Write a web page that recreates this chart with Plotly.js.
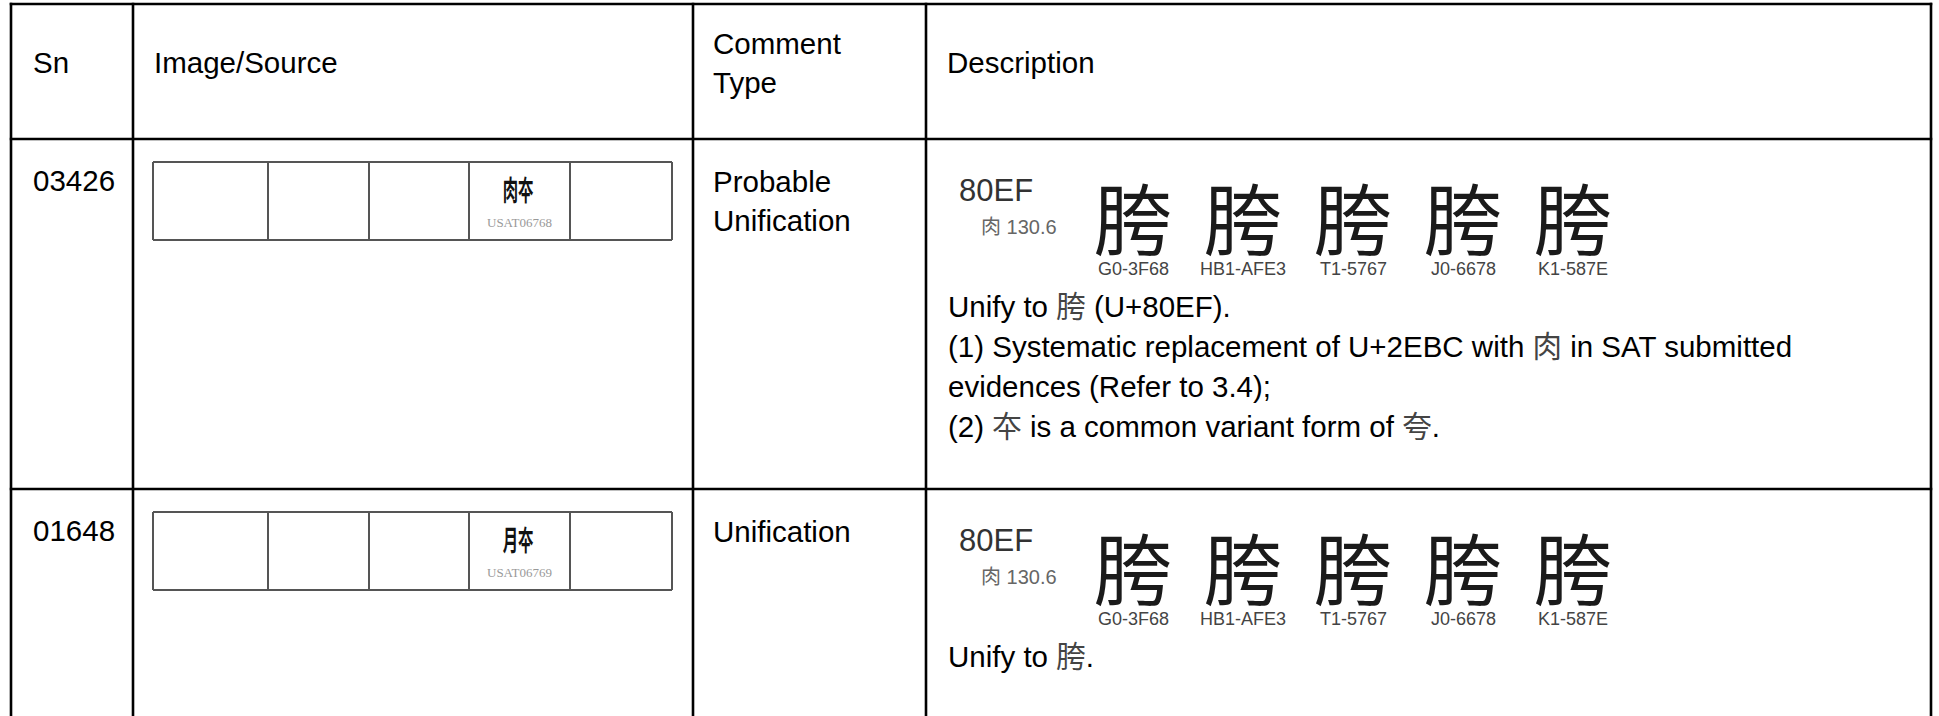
<!DOCTYPE html>
<html>
<head>
<meta charset="utf-8">
<script src="https://cdn.plot.ly/plotly-3.0.1.min.js"></script>
<style>
html,body{margin:0;padding:0;background:#ffffff;overflow:hidden}
#chart{width:1939px;height:716px}
</style>
</head>
<body>
<div id="chart"></div>
<script>
// ---------------- data ----------------
const headerSn = "Sn";
const headerImage = "Image/Source";
const headerComment = ["Comment", "Type"];
const headerDescription = "Description";

const serialNumbers = ["03426", "01648"];
const commentTypes = [["Probable", "Unification"], ["Unification"]];

const sourceSlotCount = 5;
const sourceSlotUsed = 3;               // 0-based slot holding the SAT glyph
const sourceGlyphs = ["肉夲", "月夲"];
const sourceIds = ["USAT06768", "USAT06769"];

const targetCode = "80EF";
const targetRadical = "肉 130.6";
const targetGlyph = "胯";
const targetSources = ["G0-3F68", "HB1-AFE3", "T1-5767", "J0-6678", "K1-587E"];

const descriptionLines = [
  ["Unify to 胯 (U+80EF).",
   "(1) Systematic replacement of U+2EBC with 肉 in SAT submitted",
   "evidences (Refer to 3.4);",
   "(2) 夲 is a common variant form of 夸."],
  ["Unify to 胯."]
];

// ---------------- geometry (layout only) ----------------
const W = 1939, H = 716;
const colX = [11, 133, 693, 926, 1931];
const rowY = [4, 139, 489];
const innerX = [153, 268, 369, 469, 570, 672];
const innerTop = 23, innerBottom = 101;
const glyphStartX = 1133, glyphStep = 110;

const SANS = "Liberation Sans, Arial, Noto Sans CJK SC, sans-serif";
const CJK = "Noto Sans CJK SC, sans-serif";
const SERIF = "Liberation Serif, Times New Roman, serif";
const FS = 29.5;

const shapes = [];
const annotations = [];

function hline(y, x0, x1, color, width) {
  shapes.push({type: "line", xref: "x", yref: "y", x0: x0, x1: x1, y0: y, y1: y,
               line: {color: color, width: width}});
}
function vline(x, y0, y1, color, width) {
  shapes.push({type: "line", xref: "x", yref: "y", x0: x, x1: x, y0: y0, y1: y1,
               line: {color: color, width: width}});
}
function txt(x, y, text, size, color, xanchor, family, weight) {
  annotations.push({x: x, y: y, xref: "x", yref: "y", text: text, showarrow: false,
    xanchor: xanchor || "left", yanchor: "middle", borderpad: 0,
    font: {size: size, color: color, family: family || SANS, weight: weight || "normal"}});
}
function cjkSpan(s) {
  return s.replace(/([\u3400-\u9fff])/g, '<span style="color:#444">$1</span>');
}

// main grid
rowY.forEach(y => hline(y, colX[0] - 1.25, colX[colX.length - 1] + 1.25, "#000", 2.6));
colX.forEach(x => vline(x, rowY[0] - 1.25, H + 5, "#000", 2.6));

// header
txt(colX[0] + 21, 62, headerSn, FS, "#000");
txt(colX[1] + 20, 62, headerImage, FS, "#000");
headerComment.forEach((s, i) => txt(colX[2] + 19, 43 + i * 39, s, FS, "#000"));
txt(colX[3] + 20, 62, headerDescription, FS, "#000");

// rows
serialNumbers.forEach((sn, r) => {
  const t = rowY[r + 1];
  txt(colX[0] + 21, t + 41, sn, FS, "#000");
  commentTypes[r].forEach((s, i) => txt(colX[2] + 19, t + 42 + i * 39, s, FS, "#000"));

  // inner source table
  const it = t + innerTop, ib = t + innerBottom;
  hline(it, innerX[0], innerX[innerX.length - 1], "#555", 2);
  hline(ib, innerX[0], innerX[innerX.length - 1], "#555", 2);
  innerX.forEach(x => vline(x, it, ib, "#555", 2));
  const cx = (innerX[sourceSlotUsed] + innerX[sourceSlotUsed + 1]) / 2;
  txt(cx - 2, t + 50, sourceGlyphs[r], 28, "#111", "center", CJK, "bold");
  txt(cx, t + 83, sourceIds[r], 13, "#999", "center", SERIF);

  // description: target glyph block
  txt(colX[3] + 32, t + 51, targetCode, 31, "#333");
  txt(colX[3] + 54, t + 88, targetRadical, 20, "#666");
  targetSources.forEach((src, i) => {
    const gx = glyphStartX + glyphStep * i;
    txt(gx, t + 77, targetGlyph, 78, "#1a1a1a", "center", CJK);
    txt(gx, t + 130, src, 18, "#444", "center");
  });
  descriptionLines[r].forEach((line, i) =>
    txt(colX[3] + 21, t + 167 + i * 40, cjkSpan(line), FS, "#000"));
});

const layout = {
  width: W, height: H,
  margin: {l: 0, r: 0, t: 0, b: 0, pad: 0},
  paper_bgcolor: "#ffffff", plot_bgcolor: "#ffffff",
  showlegend: false,
  xaxis: {range: [0, W], visible: false, fixedrange: true},
  yaxis: {range: [H, 0], visible: false, fixedrange: true},
  shapes: shapes,
  annotations: annotations
};

const traces = [{type: "scatter", mode: "markers", x: [], y: [], hoverinfo: "skip", showlegend: false}];

Plotly.newPlot("chart", traces, layout, {staticPlot: true, displayModeBar: false}).then(() => {
  document.querySelectorAll("#chart .annotation-text").forEach(el => {
    if (sourceGlyphs.indexOf(el.textContent) >= 0) {
      el.style.transformBox = "fill-box";
      el.style.transformOrigin = "center";
      el.style.transform = "scaleX(0.55)";
    }
  });
});
</script>
</body>
</html>
